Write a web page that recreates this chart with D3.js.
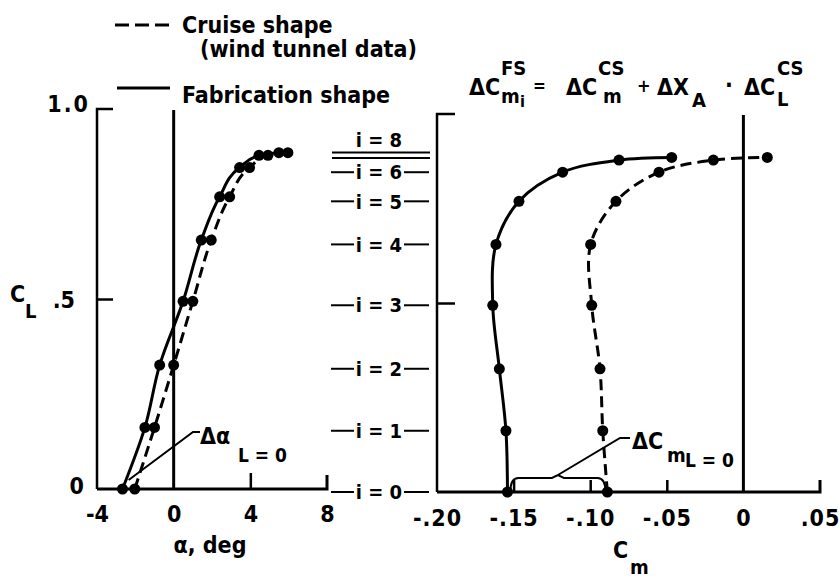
<!DOCTYPE html>
<html>
<head>
<meta charset="utf-8">
<script src="https://cdn.jsdelivr.net/npm/d3@7/dist/d3.min.js"></script>
<style>
  html, body { margin: 0; padding: 0; background: #fff; }
  svg { display: block; }
  text { font-family: "Liberation Sans Narrow", "DejaVu Sans Condensed", "Roboto Condensed", "Liberation Sans", sans-serif; font-stretch: condensed; font-weight: bold; fill: #000; }
</style>
</head>
<body>
<svg id="chart" width="839" height="587"></svg>
<script>
// Lift coefficient at each test condition i = 0 … 8
const levels = [0, 1, 2, 3, 4, 5, 6, 7, 8];
const liftCoef = [0, 0.162, 0.326, 0.494, 0.655, 0.769, 0.846, 0.878, 0.885];

// Angle of attack (deg) for each condition
const alphaFabrication = [-2.67, -1.5, -0.73, 0.49, 1.44, 2.4, 3.44, 4.45, 5.49];
const alphaCruise      = [-2.03, -1.0, 0.0, 1.0, 1.96, 2.92, 3.96, 4.92, 5.96];

// Pitching-moment coefficient for each condition
const cmFabrication = [-0.154, -0.155, -0.1593, -0.1636, -0.1615, -0.1465, -0.118, -0.0812, -0.0468];
const cmCruise      = [-0.0888, -0.0918, -0.0936, -0.099, -0.0997, -0.0832, -0.0551, -0.0196, 0.0156];

// Axis ticks and their labels
const alphaTicks = [-4, 0, 4, 8];
const alphaTickLabels = ["-4", "0", "4", "8"];
const clTicks = [0, 0.5, 1.0];
const clTickLabels = ["0", ".5", "1.0"];
const cmTicks = [-0.20, -0.15, -0.10, -0.05, 0, 0.05];
const cmTickLabels = ["-.20", "-.15", "-.10", "-.05", "0", ".05"];

const svg = d3.select("#chart");
const FS = 23;
const LW = 3;

// ---------- scales ----------
const xA = d3.scaleLinear().domain([-4, 8]).range([97, 327]);
const yA = d3.scaleLinear().domain([0, 1]).range([489, 109]);
const xM = d3.scaleLinear().domain([-0.20, 0.05]).range([437, 820]);
const yM = d3.scaleLinear().domain([0, 1]).range([492, 114]);

function txt(x, y, s, opts = {}) {
  const t = svg.append("text").attr("x", x).attr("y", y).text(s)
    .attr("font-size", opts.size || FS)
    .attr("text-anchor", opts.anchor || "start");
  if (opts.ls) t.attr("letter-spacing", opts.ls);
  return t;
}

// ---------- legend ----------
svg.append("line").attr("x1", 115).attr("x2", 170).attr("y1", 25).attr("y2", 25)
  .attr("stroke", "#000").attr("stroke-width", LW).attr("stroke-dasharray", "14 6");
txt(182, 33, "Cruise shape");
txt(200, 57, "(wind tunnel data)");
svg.append("line").attr("x1", 117).attr("x2", 170).attr("y1", 88).attr("y2", 88)
  .attr("stroke", "#000").attr("stroke-width", LW);
txt(182, 103, "Fabrication shape");

// ---------- left panel: C_L versus alpha ----------
const left = svg.append("g");

// frame: left spine with inward ticks
const yAxisL = d3.axisLeft(yA).tickValues(clTicks).tickSize(-16).tickFormat((d, i) => clTickLabels[i]).tickPadding(22);
const gyL = left.append("g").attr("transform", `translate(${xA(-4)},0)`).call(yAxisL);
gyL.select(".domain").attr("stroke-width", 2.5).attr("d", `M16,${yA(1)}H0V${yA(0)}`);
gyL.selectAll(".tick line").attr("stroke-width", 2.5);
gyL.selectAll(".tick").filter(d => d === 0 || d === 1).select("line").remove();
gyL.selectAll(".tick text").attr("font-size", FS).attr("font-family", null).attr("dy", "0.35em");
gyL.selectAll(".tick").filter(d => d === 1).select("text").attr("x", -7).attr("dy", "0.1em").attr("letter-spacing", 2);
gyL.selectAll(".tick").filter(d => d === 0).select("text").attr("x", -13).attr("dy", "0.2em");

// bottom spine with inward ticks
const xAxisL = d3.axisBottom(xA).tickValues(alphaTicks).tickSize(-16).tickFormat((d, i) => alphaTickLabels[i]).tickPadding(0);
const gxL = left.append("g").attr("transform", `translate(0,${yA(0)})`).call(xAxisL);
gxL.select(".domain").attr("stroke-width", 3).attr("d", `M${xA(-4)},0H${xA(8)}V-14`);
gxL.selectAll(".tick line").attr("stroke-width", 2.5);
gxL.selectAll(".tick").filter(d => d <= 0 || d === 8).select("line").remove();
gxL.selectAll(".tick text").attr("font-size", FS).attr("font-family", null).attr("y", 33).attr("dy", 0);

// alpha = 0 reference line
left.append("line").attr("x1", xA(0)).attr("x2", xA(0)).attr("y1", 110).attr("y2", yA(0))
  .attr("stroke", "#000").attr("stroke-width", 3);

txt(210, 553, "α, deg", { anchor: "middle" });
txt(10, 302, "C");
txt(25, 318, "L", { size: 20 });

const curveL = d3.line().curve(d3.curveMonotoneY);
const curveR = d3.line().curve(d3.curveCatmullRom.alpha(0.5));
const ptsFabA = levels.map(i => [xA(alphaFabrication[i]), yA(liftCoef[i])]);
const ptsCruA = levels.map(i => [xA(alphaCruise[i]), yA(liftCoef[i])]);

left.append("path").attr("d", curveL(ptsCruA)).attr("fill", "none").attr("stroke", "#000")
  .attr("stroke-width", LW).attr("stroke-dasharray", "11 6");
left.append("path").attr("d", curveL(ptsFabA)).attr("fill", "none").attr("stroke", "#000")
  .attr("stroke-width", LW);
left.selectAll("circle.f").data(ptsFabA).join("circle").attr("class", "f")
  .attr("cx", d => d[0]).attr("cy", d => d[1]).attr("r", 5.5);
left.selectAll("circle.c").data(ptsCruA).join("circle").attr("class", "c")
  .attr("cx", d => d[0]).attr("cy", d => d[1]).attr("r", 5.5);

// zero-lift angle shift annotation
const aMid = xA((alphaFabrication[0] + alphaCruise[0]) / 2);
left.append("path").attr("d", `M200,432H193L${aMid},${yA(0) - 9}`)
  .attr("fill", "none").attr("stroke", "#000").attr("stroke-width", 2);
txt(200, 444, "Δα");
txt(238, 462, "L = 0", { size: 19 });

// ---------- right panel: C_L versus C_m ----------
const right = svg.append("g");

const yAxisR = d3.axisLeft(yM).tickValues([0.5]).tickSize(-18).tickFormat("");
const gyR = right.append("g").attr("transform", `translate(${xM(-0.20)},0)`).call(yAxisR);
gyR.select(".domain").attr("stroke-width", 2.5).attr("d", `M18,${yM(1)}H0V${yM(0)}`);
gyR.selectAll(".tick line").attr("stroke-width", 2.5);

const xAxisR = d3.axisBottom(xM).tickValues(cmTicks).tickSize(-12).tickFormat((d, i) => cmTickLabels[i]).tickPadding(0);
const gxR = right.append("g").attr("transform", `translate(0,${yM(0)})`).call(xAxisR);
gxR.select(".domain").attr("stroke-width", 3).attr("d", `M${xM(-0.20)},0H${xM(0.05)}V-12`);
gxR.selectAll(".tick line").attr("stroke-width", 2.5);
gxR.selectAll(".tick").filter(d => d === -0.20 || d === 0 || d === 0.05).select("line").remove();
gxR.selectAll(".tick text").attr("font-size", FS).attr("font-family", null).attr("y", 34).attr("dy", 0).attr("letter-spacing", 1);

// C_m = 0 reference line
right.append("line").attr("x1", xM(0)).attr("x2", xM(0)).attr("y1", 115).attr("y2", yM(0))
  .attr("stroke", "#000").attr("stroke-width", 3);

txt(613, 558, "C");
txt(630, 574, "m", { size: 20 });

const ptsFabM = levels.map(i => [xM(cmFabrication[i]), yM(liftCoef[i])]);
const ptsCruM = levels.map(i => [xM(cmCruise[i]), yM(liftCoef[i])]);
right.append("path").attr("d", curveR(ptsCruM)).attr("fill", "none").attr("stroke", "#000")
  .attr("stroke-width", LW).attr("stroke-dasharray", "11 6");
right.append("path").attr("d", curveR(ptsFabM)).attr("fill", "none").attr("stroke", "#000")
  .attr("stroke-width", LW);
right.selectAll("circle.f").data(ptsFabM).join("circle").attr("class", "f")
  .attr("cx", d => d[0]).attr("cy", d => d[1]).attr("r", 5.5);
right.selectAll("circle.c").data(ptsCruM).join("circle").attr("class", "c")
  .attr("cx", d => d[0]).attr("cy", d => d[1]).attr("r", 5.5);

// zero-lift moment shift: brace between the two i = 0 points and its label
const bx0 = xM(cmFabrication[0]) + 3, bx1 = xM(cmCruise[0]) - 2;
const bmid = (bx0 + bx1) / 2, by = yM(0) - 14, bb = yM(0) - 1;
right.append("path")
  .attr("d", `M${bx0},${bb}Q${bx0},${by} ${bx0 + 8},${by}H${bmid - 6}L${bmid},${by - 3}L${bmid + 6},${by}H${bx1 - 8}Q${bx1},${by} ${bx1},${bb}`)
  .attr("fill", "none").attr("stroke", "#000").attr("stroke-width", 2);
right.append("path").attr("d", `M630,438H620L${bmid},${by - 3}`)
  .attr("fill", "none").attr("stroke", "#000").attr("stroke-width", 2);
txt(632, 449, "ΔC");
txt(667, 462, "m", { size: 20 });
txt(685, 467, "L = 0", { size: 19 });

// ---------- condition labels between the panels ----------
const mid = svg.append("g");
levels.filter(i => i <= 6).forEach(i => {
  const y = yM(liftCoef[i]);
  mid.append("line").attr("x1", 331).attr("x2", 354).attr("y1", y).attr("y2", y)
    .attr("stroke", "#000").attr("stroke-width", 2);
  mid.append("line").attr("x1", 404).attr("x2", 429).attr("y1", y).attr("y2", y)
    .attr("stroke", "#000").attr("stroke-width", 2);
  mid.append("text").attr("x", 379).attr("y", y).attr("dy", "0.36em")
    .attr("text-anchor", "middle").attr("font-size", 20).text(`i = ${i}`);
});
const y7 = yM(liftCoef[7]) - 2;
[y7, y7 - 5.5].forEach(y => {
  mid.append("line").attr("x1", 332).attr("x2", 430).attr("y1", y).attr("y2", y)
    .attr("stroke", "#000").attr("stroke-width", 2);
});
mid.append("text").attr("x", 379).attr("y", y7 - 11).attr("text-anchor", "middle")
  .attr("font-size", 20).text(`i = ${levels[8]}`);

// ---------- correction formula ----------
txt(469, 95, "ΔC");
txt(501, 75, "FS", { size: 20 });
txt(501, 103, "m", { size: 20 });
txt(520, 107, "i", { size: 16 });
txt(533, 92, "=", { size: 17 });
txt(566, 95, "ΔC");
txt(598, 75, "CS", { size: 20 });
txt(603, 103, "m", { size: 20 });
txt(637, 92, "+", { size: 18 });
txt(657, 95, "ΔX");
txt(692, 107, "A", { size: 20 });
txt(725, 93, "·", { size: 23 });
txt(744, 95, "ΔC");
txt(777, 75, "CS", { size: 20 });
txt(777, 106, "L", { size: 20 });
</script>
</body>
</html>
